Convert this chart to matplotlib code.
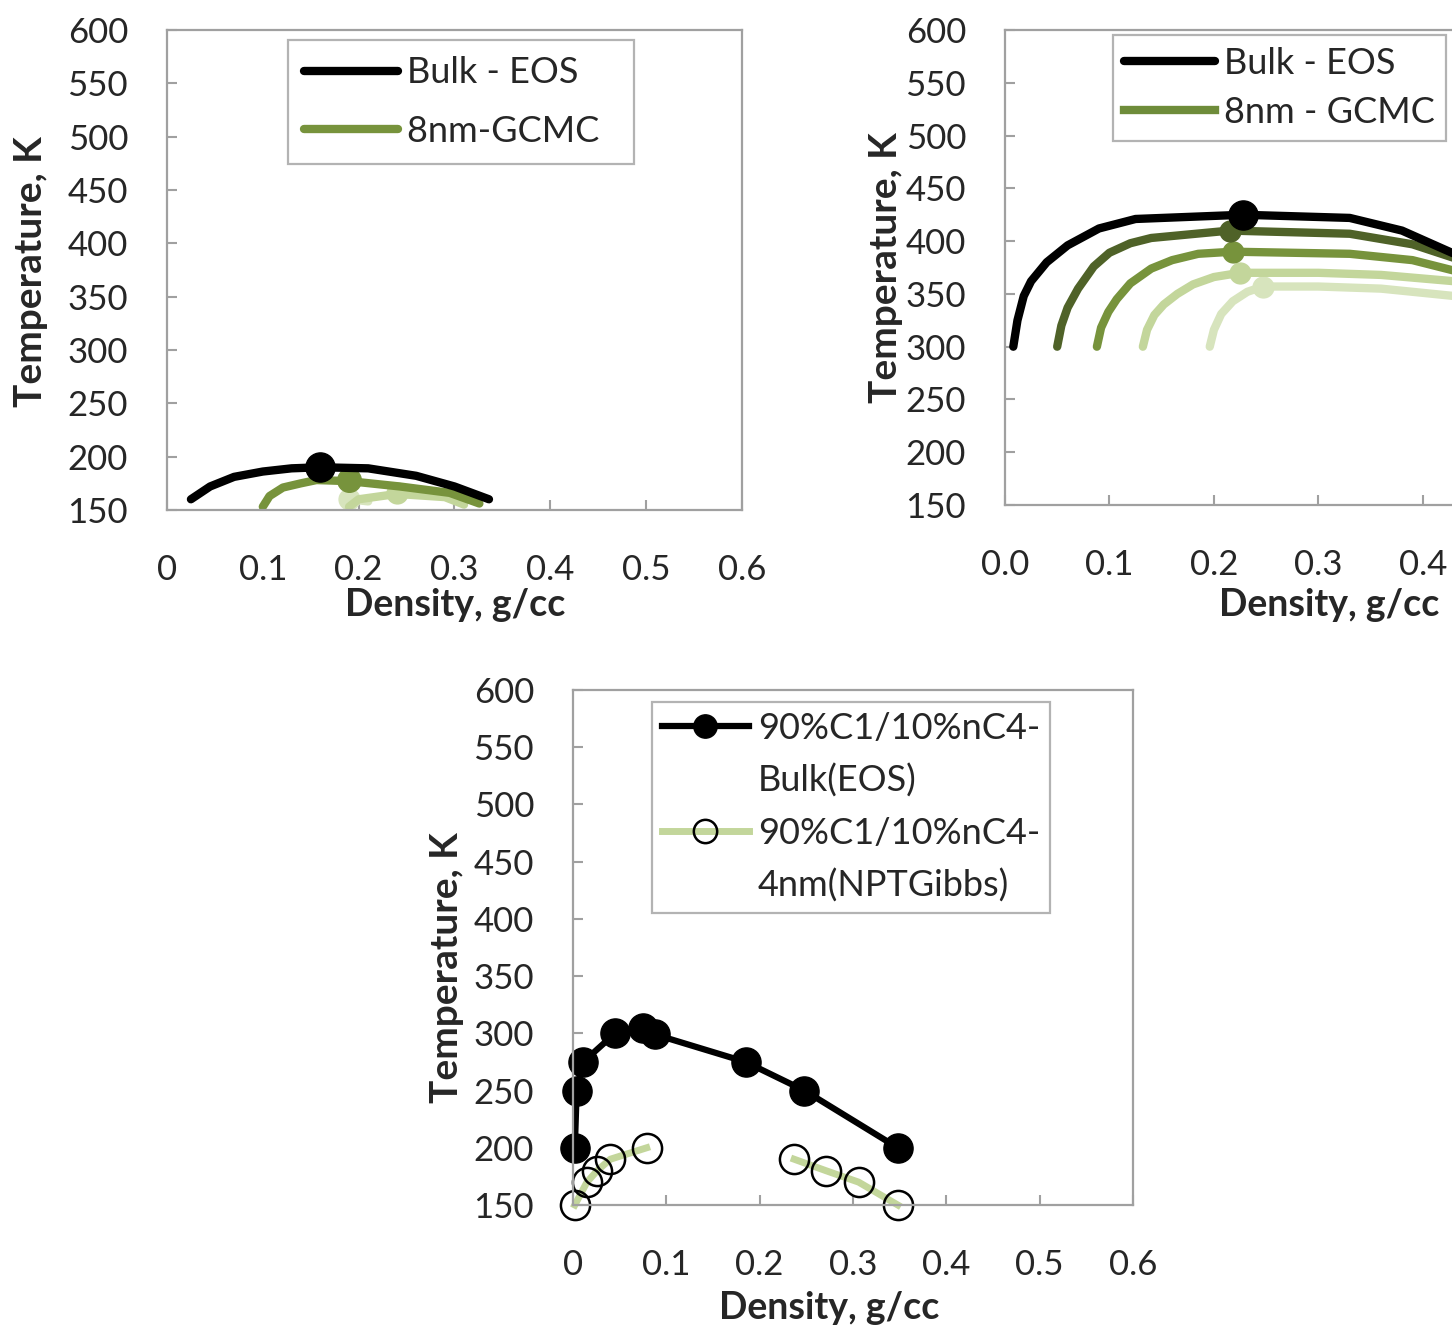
"""Phase envelopes (bulk vs. confined) for C1, nC4 and a C1/nC4 mixture."""

import matplotlib

matplotlib.use("Agg")
import matplotlib.pyplot as plt
from matplotlib.lines import Line2D

plt.rcParams["font.family"] = ["Lato", "DejaVu Sans"]

# ---------------------------------------------------------------- data
temp_ticks = [150, 200, 250, 300, 350, 400, 450, 500, 550, 600]
dens_ticks = [0.0, 0.1, 0.2, 0.3, 0.4, 0.5, 0.6]
dens_labels_plain = ["0", "0.1", "0.2", "0.3", "0.4", "0.5", "0.6"]
dens_labels_dec = ["0.0", "0.1", "0.2", "0.3", "0.4"]

# top-left: methane
c1_bulk_x = [0.025, 0.045, 0.07, 0.10, 0.13, 0.16, 0.21, 0.26, 0.30, 0.336]
c1_bulk_T = [160, 172, 181, 186, 189, 190, 189, 182, 172, 160]
c1_bulk_crit = (0.16, 190)
c1_8nm_x = [0.10, 0.107, 0.121, 0.14, 0.156, 0.19, 0.243, 0.295, 0.326]
c1_8nm_T = [153, 163, 171, 175, 178, 177, 172, 166, 156]
c1_8nm_crit = (0.19, 178)
c1_4nm_x = [0.19, 0.20, 0.24, 0.29, 0.31]
c1_4nm_T = [153, 160, 165, 162, 155]
c1_4nm_crit = (0.24, 166)
c1_2nm_x = [0.19, 0.19, 0.21]
c1_2nm_T = [152, 160, 158]
c1_2nm_crit = (0.19, 160)

# top-right: n-butane
c4_bulk_x = [0.008, 0.012, 0.018, 0.025, 0.04, 0.06, 0.09, 0.125, 0.228, 0.33, 0.38, 0.43, 0.46]
c4_bulk_T = [300, 325, 348, 362, 380, 396, 412, 421, 425, 422, 410, 388, 370]
c4_bulk_crit = (0.228, 425)
c4_8nm_x = [0.05, 0.054, 0.06, 0.07, 0.085, 0.10, 0.12, 0.14, 0.215, 0.33, 0.39, 0.43, 0.46]
c4_8nm_T = [300, 320, 337, 355, 376, 389, 398, 403, 410, 407, 397, 384, 370]
c4_8nm_crit = (0.215, 410)
c4_6nm_x = [0.088, 0.092, 0.099, 0.107, 0.12, 0.14, 0.16, 0.185, 0.218, 0.33, 0.39, 0.43, 0.46]
c4_6nm_T = [300, 318, 333, 345, 360, 374, 382, 388, 390, 388, 382, 372, 360]
c4_6nm_crit = (0.218, 390)
c4_4nm_x = [0.132, 0.136, 0.143, 0.152, 0.165, 0.18, 0.20, 0.225, 0.30, 0.36, 0.43, 0.46]
c4_4nm_T = [300, 316, 330, 340, 350, 359, 366, 370, 370, 368, 362, 355]
c4_4nm_crit = (0.225, 370)
c4_2nm_x = [0.196, 0.20, 0.207, 0.218, 0.232, 0.247, 0.30, 0.36, 0.43, 0.46]
c4_2nm_T = [300, 316, 331, 343, 352, 357, 357, 355, 348, 342]
c4_2nm_crit = (0.247, 357)

# bottom: 90% C1 / 10% nC4
mix_bulk_x = [0.002, 0.004, 0.011, 0.045, 0.075, 0.088, 0.185, 0.248, 0.348]
mix_bulk_T = [200, 250, 275, 300, 305, 299, 275, 250, 200]
mix_vap_x = [0.002, 0.015, 0.026, 0.040, 0.079]
mix_vap_T = [150, 170, 180, 190, 200]
mix_liq_x = [0.237, 0.271, 0.306, 0.348]
mix_liq_T = [190, 180, 170, 150]

BLACK = "#000000"
DARK = "#4f6228"
MID = "#77933c"
LIGHT = "#c3d69b"
PALE = "#d7e4bd"
SPINE = "#a0a0a0"
TXT = "#262626"
LW = 6


def style_axes(ax, dens_labels, xlab_xy, ylab_xy):
    """Excel-like frame, inward ticks and bold axis titles."""
    ax.set_xlim(0, 0.6)
    ax.set_ylim(150, 600)
    ax.set_xticks(dens_ticks[:len(dens_labels)])
    ax.set_xticklabels(dens_labels)
    ax.set_yticks(temp_ticks)
    for s in ax.spines.values():
        s.set_color(SPINE)
        s.set_linewidth(1.6)
    ax.tick_params(direction="in", length=7, width=1.5, color=SPINE,
                   labelsize=25, labelcolor=TXT)
    ax.tick_params(axis="x", pad=32)
    ax.tick_params(axis="y", pad=28)
    ax.set_xlabel("Density, g/cc", fontsize=27, fontweight="bold", color=TXT)
    ax.set_ylabel("Temperature, K", fontsize=28, fontweight="bold", color=TXT)
    ax.xaxis.set_label_coords(*xlab_xy)
    ax.yaxis.set_label_coords(*ylab_xy)
    ax.xaxis.label.set_va("center")
    ax.yaxis.label.set_va("center")


def boxed_legend(ax, handles, labels, anchor, **kw):
    """Square gray-framed legend anchored by its upper-left corner."""
    leg = ax.legend(handles, labels, loc="upper left", bbox_to_anchor=anchor,
                    borderaxespad=0, fontsize=26, fancybox=False,
                    handletextpad=0.25, **kw)
    leg.get_frame().set_edgecolor(SPINE)
    leg.get_frame().set_linewidth(1.6)
    for t in leg.get_texts():
        t.set_color(TXT)
    return leg


def curve(ax, x, T, crit, color, ms=15):
    line, = ax.plot(x, T, color=color, lw=LW, solid_capstyle="round",
                    solid_joinstyle="round")
    ax.plot(*crit, "o", color=color, ms=ms)
    return line


fig = plt.figure(figsize=(14.52, 13.29), dpi=100)

# ---------------------------------------------------------------- methane
ax1 = fig.add_axes([0.1150, 0.6163, 0.3960, 0.3612])
curve(ax1, c1_2nm_x, c1_2nm_T, c1_2nm_crit, PALE)
curve(ax1, c1_4nm_x, c1_4nm_T, c1_4nm_crit, LIGHT)
g1 = curve(ax1, c1_8nm_x, c1_8nm_T, c1_8nm_crit, MID, ms=17)
b1 = curve(ax1, c1_bulk_x, c1_bulk_T, c1_bulk_crit, BLACK, ms=21)
style_axes(ax1, dens_labels_plain, (0.501, -0.198), (-0.238, 0.496))
boxed_legend(ax1, [b1, g1], ["Bulk - EOS", "8nm-GCMC  "], (0.21, 0.979),
             handlelength=2.6, labelspacing=0.7, borderpad=0.45)

# ---------------------------------------------------------------- n-butane
ax2 = fig.add_axes([0.6921, 0.6200, 0.4318, 0.3574])
curve(ax2, c4_2nm_x, c4_2nm_T, c4_2nm_crit, PALE)
curve(ax2, c4_4nm_x, c4_4nm_T, c4_4nm_crit, LIGHT)
curve(ax2, c4_6nm_x, c4_6nm_T, c4_6nm_crit, MID)
curve(ax2, c4_8nm_x, c4_8nm_T, c4_8nm_crit, DARK)
b2 = curve(ax2, c4_bulk_x, c4_bulk_T, c4_bulk_crit, BLACK, ms=21)
style_axes(ax2, dens_labels_dec, (0.517, -0.21), (-0.191, 0.50))
g2 = Line2D([], [], color="#6e8c3a", lw=LW)
boxed_legend(ax2, [b2, g2], ["Bulk - EOS", "8nm - GCMC"], (0.172, 0.989),
             handlelength=2.5, labelspacing=0.45, borderpad=0.32)

# ---------------------------------------------------------------- mixture
ax3 = fig.add_axes([0.3946, 0.0933, 0.3857, 0.3875])
pore, = ax3.plot(mix_vap_x, mix_vap_T, color=LIGHT, lw=5, marker="o", ms=21,
                 mfc="none", mec=BLACK, mew=1.8, clip_on=False)
ax3.plot(mix_liq_x, mix_liq_T, color=LIGHT, lw=5, marker="o", ms=21,
         mfc="none", mec=BLACK, mew=1.8, clip_on=False)
bulk, = ax3.plot(mix_bulk_x, mix_bulk_T, color=BLACK, lw=4.5, marker="o",
                 ms=21, clip_on=False)
style_axes(ax3, dens_labels_plain, (0.457, -0.2), (-0.225, 0.46))
blank = Line2D([], [], linestyle="none")
boxed_legend(ax3, [bulk, blank, pore, blank],
             ["90%C1/10%nC4-", "Bulk(EOS)", "90%C1/10%nC4-", "4nm(NPTGibbs)"],
             (0.141, 0.977), handlelength=2.4, labelspacing=0.52,
             borderpad=0.28, markerscale=0.8)

fig.savefig("out.png", dpi=100)
